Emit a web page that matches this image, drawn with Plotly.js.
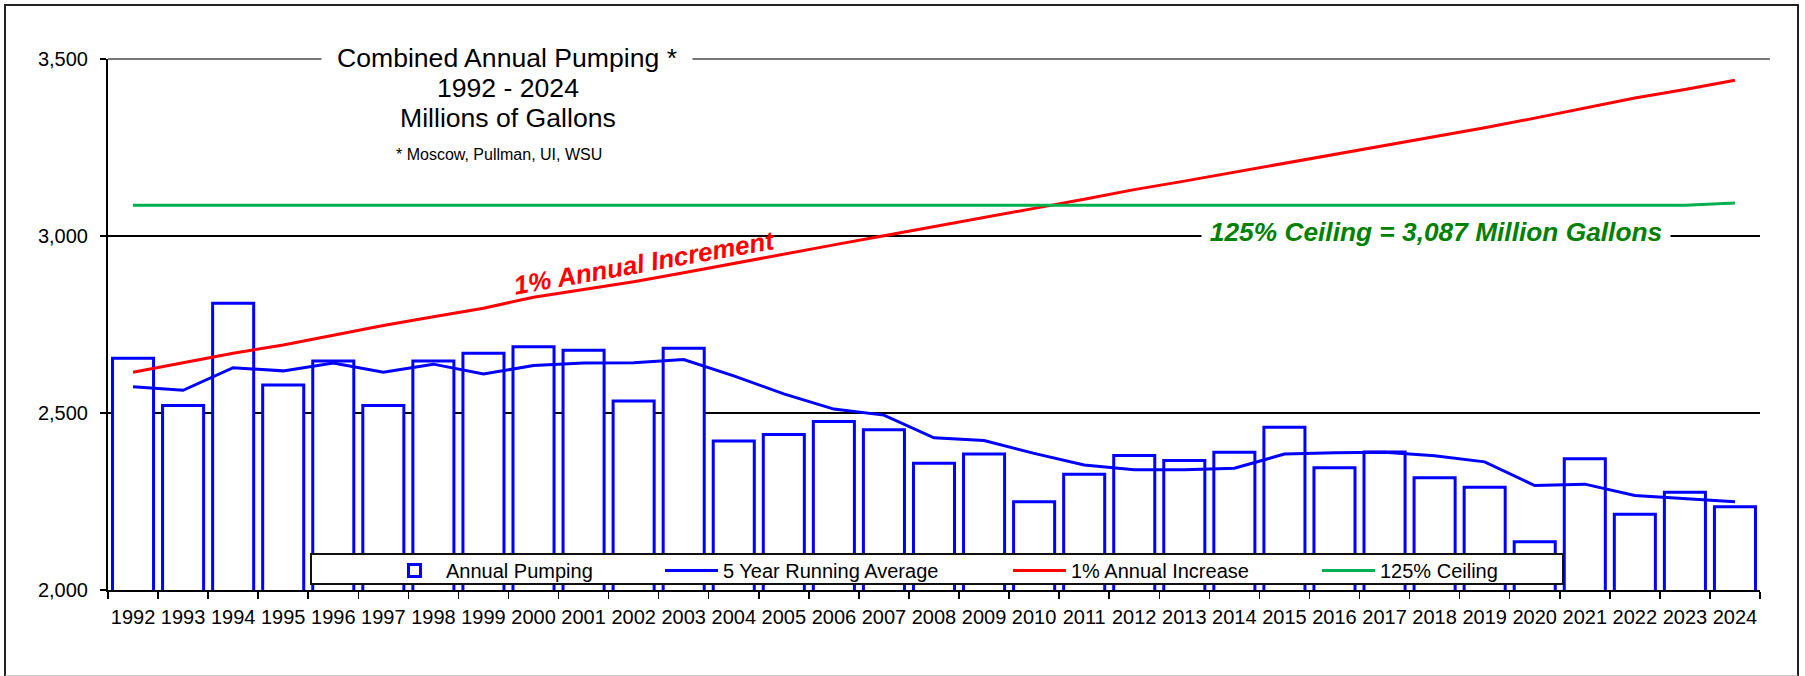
<!DOCTYPE html>
<html>
<head>
<meta charset="utf-8">
<script src="https://cdn.plot.ly/plotly-3.0.1.min.js"></script>
<style>
html,body{margin:0;padding:0;background:#fff;}
#wrap{position:relative;width:1805px;height:676px;overflow:hidden;}
#chart{width:1805px;height:676px;}
#frame{position:absolute;left:4px;top:4px;width:1795px;height:673px;box-sizing:border-box;border:2px solid #222;border-bottom-color:#c8c8c8;pointer-events:none;}
</style>
</head>
<body>
<div id="wrap"><div id="chart"></div><div id="frame"></div></div>
<script>
// ---- data ----
const years = ['1992','1993','1994','1995','1996','1997','1998','1999','2000','2001','2002',
  '2003','2004','2005','2006','2007','2008','2009','2010','2011','2012','2013',
  '2014','2015','2016','2017','2018','2019','2020','2021','2022','2023','2024'];

const annualPumping = [2655, 2521, 2810, 2579, 2647, 2521, 2647, 2669, 2687, 2677, 2534,
  2683, 2421, 2439, 2476, 2453, 2358, 2384, 2249, 2327, 2380, 2366,
  2389, 2460, 2345, 2390, 2317, 2290, 2136, 2371, 2214, 2276, 2235];

const runningAverage5yr = [2574, 2564, 2628, 2619, 2641, 2615, 2638, 2610, 2634, 2641, 2642,
  2651, 2605, 2554, 2511, 2494, 2430, 2422, 2386, 2353, 2340, 2340,
  2344, 2384, 2388, 2389, 2379, 2362, 2295, 2299, 2267, 2259, 2249];

const annualIncrease1pct = [2615, 2642, 2669, 2692, 2720, 2747, 2772, 2796, 2827, 2848, 2871,
  2896, 2923, 2948, 2975, 3001, 3026, 3053, 3078, 3104, 3131, 3155,
  3180, 3205, 3230, 3254, 3279, 3306, 3333, 3362, 3390, 3414, 3440];

const ceiling125pct = [3087, 3087, 3087, 3087, 3087, 3087, 3087, 3087, 3087, 3087, 3087,
  3087, 3087, 3087, 3087, 3087, 3087, 3087, 3087, 3087, 3087, 3087,
  3087, 3087, 3087, 3087, 3087, 3087, 3087, 3087, 3087, 3087, 3093];

const yTicks = [2000, 2500, 3000, 3500];
const seriesNames = ['Annual Pumping', '5 Year Running Average', '1% Annual Increase', '125% Ceiling'];
const titleLines = ['Combined Annual Pumping *', '1992 - 2024', 'Millions of Gallons'];
const footnote = '* Moscow, Pullman, UI, WSU';
const incrementLabel = '1% Annual Increment';
const ceilingLabel = '125% Ceiling = 3,087 Million Gallons';

// ---- chart ----
const FONT = 'Liberation Sans, Arial, Helvetica, sans-serif';
const BLUE = '#0000FF', RED = '#FF0000', GREEN = '#00B050', DKGREEN = '#008000';

const traces = [
  {type:'bar', name:seriesNames[0], x:years, y:annualPumping,
   marker:{color:'rgba(255,255,255,1)', line:{color:BLUE, width:3}},
   legendwidth:209},
  {type:'scatter', mode:'lines', name:seriesNames[1], x:years, y:runningAverage5yr,
   line:{color:BLUE, width:3}, legendwidth:280},
  {type:'scatter', mode:'lines', name:seriesNames[2], x:years, y:annualIncrease1pct,
   line:{color:RED, width:3}, legendwidth:241},
  {type:'scatter', mode:'lines', name:seriesNames[3], x:years, y:ceiling125pct,
   line:{color:GREEN, width:3}, legendwidth:130}
];

function px2x(px){ return (px - 108) / 1652; }
function px2y(py){ return (590 - py) / 531; }

const layout = {
  width:1805, height:676,
  margin:{l:108, r:45, t:59, b:86, pad:0},
  paper_bgcolor:'#ffffff', plot_bgcolor:'#ffffff',
  font:{family:FONT, size:20, color:'#000'},
  showlegend:true,
  bargap:0.18,
  xaxis:{type:'category', tickson:'boundaries', ticks:'outside', ticklen:7, tickwidth:1.5,
    tickcolor:'#000', showline:true, linecolor:'#000', linewidth:2, showgrid:false,
    tickangle:0, tickfont:{size:20, color:'#000'}, ticklabelstandoff:8, fixedrange:true},
  yaxis:{range:[2000,3500], tickvals:yTicks, tickformat:',d', ticks:'outside', ticklen:6,
    tickcolor:'#000', tickwidth:1.5, showline:true, linecolor:'#000', linewidth:2,
    showgrid:true, gridcolor:'#000', gridwidth:1.3, zeroline:false,
    tickfont:{size:20, color:'#000'}, ticklabelstandoff:8, fixedrange:true},
  yaxis2:{overlaying:'y', side:'right', anchor:'x', range:[2000,3500], tickvals:yTicks,
    showticklabels:false, ticks:'outside', ticklen:9, tickwidth:1.5, tickcolor:'#555',
    showline:true, linecolor:'#8c8c8c', linewidth:2, showgrid:false, zeroline:false, fixedrange:true},
  legend:{orientation:'h', x:px2x(383), xanchor:'left', y:px2y(551), yanchor:'top',
    bgcolor:'rgba(0,0,0,0)', borderwidth:0, font:{size:20, color:'#000'},
    itemwidth:53},
  shapes:[
    {type:'line', xref:'paper', yref:'paper', x0:0, x1:1.006, y0:1, y1:1,
     line:{color:'#777', width:2}},
    // legend frame (covers bars like the original legend box)
    {type:'rect', xref:'paper', yref:'paper', layer:'above',
     x0:px2x(311), x1:px2x(1563), y0:px2y(584), y1:px2y(554),
     fillcolor:'#fff', line:{color:'#111', width:2}}
  ],
  annotations:[
    {xref:'paper', yref:'paper', x:px2x(507), y:px2y(57.5), text:titleLines[0], showarrow:false,
     xanchor:'center', yanchor:'middle', font:{size:26.6, color:'#000'}, bgcolor:'#fff', width:366, borderpad:2},
    {xref:'paper', yref:'paper', x:px2x(508), y:px2y(88), text:titleLines[1], showarrow:false,
     xanchor:'center', yanchor:'middle', font:{size:26.6, color:'#000'}},
    {xref:'paper', yref:'paper', x:px2x(507.5), y:px2y(118.5), text:titleLines[2], showarrow:false,
     xanchor:'center', yanchor:'middle', font:{size:26.6, color:'#000'}},
    {xref:'paper', yref:'paper', x:px2x(498.5), y:px2y(154), text:footnote, showarrow:false,
     xanchor:'center', yanchor:'middle', font:{size:16, color:'#000'}},
    {xref:'paper', yref:'paper', x:px2x(644), y:px2y(263), text:'<b><i>' + incrementLabel + '</i></b>',
     showarrow:false, xanchor:'center', yanchor:'middle', textangle:-10,
     font:{size:26, color:RED}},
    {xref:'paper', yref:'paper', x:px2x(1436), y:px2y(232.5), text:'<b><i>' + ceilingLabel + '</i></b>',
     showarrow:false, xanchor:'center', yanchor:'middle', font:{size:26.3, color:DKGREEN},
     bgcolor:'#fff', width:464, height:28, borderpad:2}
  ]
};

Plotly.newPlot('chart', traces, layout, {displayModeBar:false, staticPlot:true});
</script>
</body>
</html>
